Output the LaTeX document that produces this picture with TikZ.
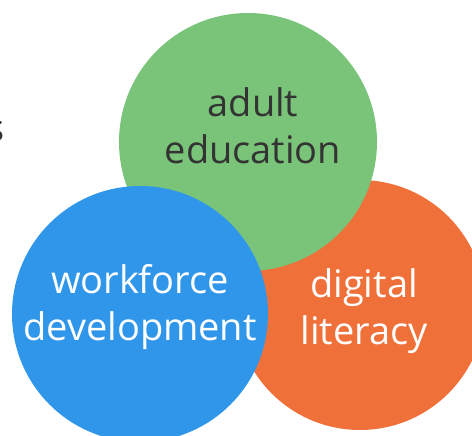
\documentclass[tikz,border=0pt]{standalone}
\usepackage{fontspec}
\setmainfont{Open Sans}
\begin{document}
\begin{tikzpicture}[x=1pt,y=-1pt]
            \definecolor{clgreen}{HTML}{7AC47A}
            \definecolor{clorange}{HTML}{F0703A}
            \definecolor{clblue}{HTML}{3096EA}
            \definecolor{cltext}{HTML}{333333}
            \tikzset{
                ring/.style={circle, inner sep=0pt, minimum size=#1},
                word/.style={align=center, inner sep=0pt, font=\fontsize{38}{47}\selectfont}
            }
            \clip (0,0) rectangle (472,436);
            \node[ring=250pt, fill=clorange] (digital) at (360,305) {};
            \node[ring=258pt, fill=clgreen] (adult) at (248,142) {};
            \node[ring=256pt, fill=clblue] (workforce) at (140,314) {};
            \node[word, text=cltext] (adulttext) at (253,126) {adult\\education};
            \node[word, text=white] (worktext) at (140,307) {workforce\\development};
            \node[word, text=white] (digitext) at (364,311) {digital\\literacy};
            \node[word, text=cltext, anchor=base east] (cut) at (5,142) {s};
        \end{tikzpicture}
\end{document}
